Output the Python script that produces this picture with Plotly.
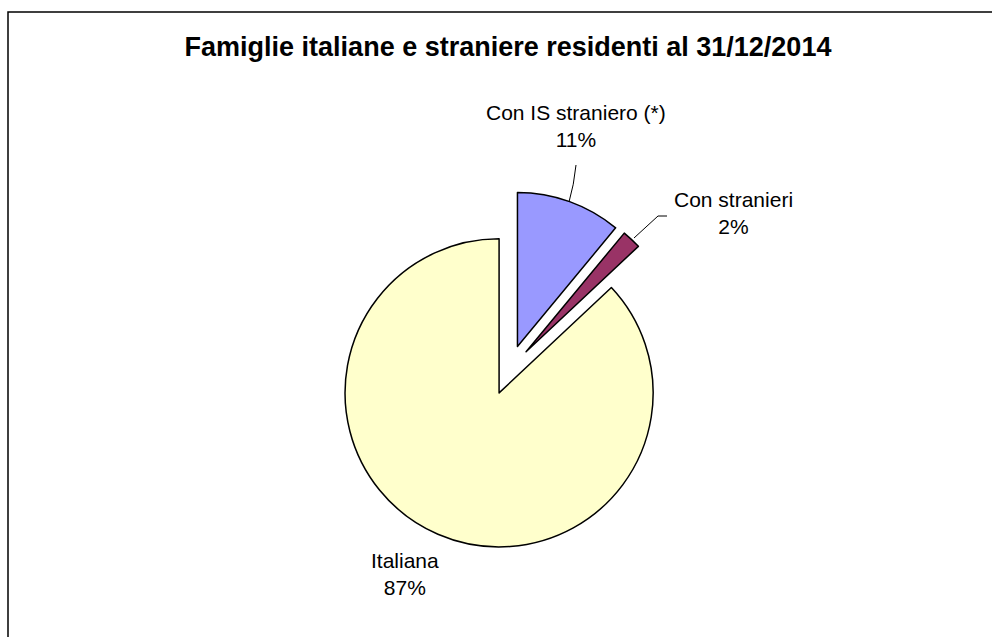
import plotly.graph_objects as go

# Data
labels = ["Con IS straniero (*)", "Con stranieri", "Italiana"]
percent = [11, 2, 87]
colors = ["#9999FF", "#993366", "#FFFFCC"]
title_text = "Famiglie italiane e straniere residenti al 31/12/2014"

W, H = 992, 637

def px(x):
    return x / W

def py(y):
    return 1 - y / H

fig = go.Figure()
fig.add_trace(go.Pie(
    labels=labels,
    values=percent,
    sort=False,
    direction="clockwise",
    rotation=0,
    pull=[0.162, 0.162, 0.162],
    marker=dict(colors=colors, line=dict(color="black", width=1.5)),
    textinfo="none",
    hoverinfo="label+percent",
    showlegend=False,
    domain=dict(x=[px(330), px(688)], y=[py(549), py(191)]),
))

# label positions (pixels)
label_pos = [(576, 126), (733, 213), (405, 574)]
annotations = []
for lab, pct, (x, y) in zip(labels, percent, label_pos):
    annotations.append(dict(
        x=px(x), y=py(y), xref="paper", yref="paper",
        text=f"{lab}<br>{pct}%", showarrow=False,
        font=dict(family="Liberation Sans, Arial", size=21, color="black"),
        xanchor="center", yanchor="middle",
    ))

shapes = [
    # frame (left and top edges visible)
    dict(type="path", xref="paper", yref="paper",
         path=f"M {px(1100)} {py(12)} L {px(8)} {py(12)} L {px(8)} {py(700)}",
         line=dict(color="black", width=1.5)),
    # leader lines
    dict(type="path", xref="paper", yref="paper",
         path=f"M {px(576)} {py(165)} Q {px(574)} {py(185)} {px(569)} {py(202)}",
         line=dict(color="black", width=1)),
    dict(type="path", xref="paper", yref="paper",
         path=f"M {px(667)} {py(216)} L {px(658)} {py(216)} L {px(634)} {py(238)}",
         line=dict(color="black", width=1)),
]

fig.update_layout(
    width=W, height=H,
    margin=dict(l=0, r=0, t=0, b=0),
    paper_bgcolor="white",
    plot_bgcolor="white",
    title=dict(text=f"<b>{title_text}</b>", x=px(508), y=py(47),
               xanchor="center", yanchor="middle",
               font=dict(family="Liberation Sans, Arial", size=27, color="black")),
    annotations=annotations,
    shapes=shapes,
)

fig.write_html(
    "out.html",
    config={"displayModeBar": False},
    post_script="document.body.style.margin='0';document.body.style.overflow='hidden';",
)
